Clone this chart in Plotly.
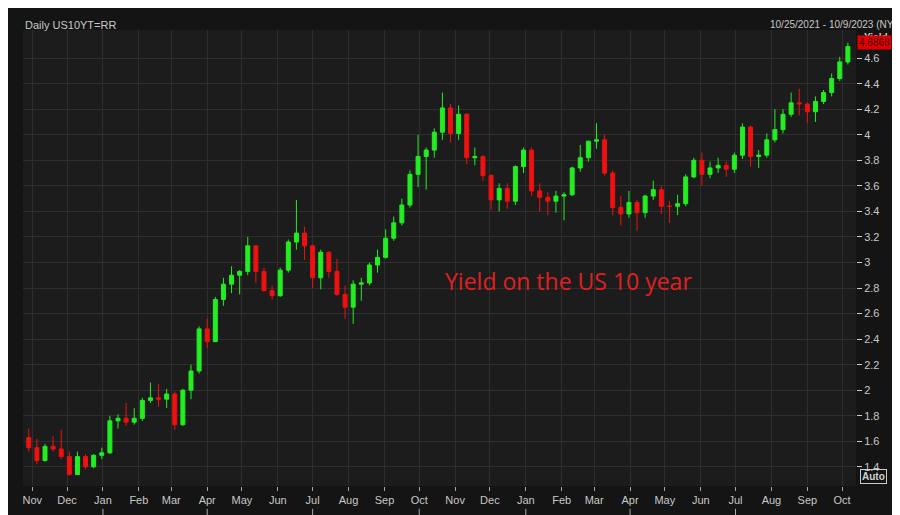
import plotly.graph_objects as go
import pandas as pd

first_open = 1.63
closes = [1.55,1.45,1.56,1.54,1.48,1.34,1.48,1.40,1.49,1.51,
 1.76,1.78,1.75,1.78,1.92,1.94,1.93,1.97,1.73,2.00,2.15,2.48,2.38,2.71,2.83,2.90,2.93,3.13,2.93,2.78,2.74,2.94,3.16,3.23,3.13,2.88,3.08,2.93,2.75,2.65,2.83,2.84,2.98,3.04,3.19,3.31,3.45,3.69,3.83,3.88,4.02,4.21,4.01,4.16,3.82,3.83,3.68,3.49,3.58,3.48,3.75,3.88,
 3.56,3.51,3.48,3.52,3.53,3.74,3.82,3.95,3.96,3.70,3.43,3.38,3.47,3.39,3.52,3.57,3.44,3.44,3.46,3.67,3.80,3.69,3.74,3.76,3.73,3.84,4.06,3.83,3.84,3.96,4.04,4.16,4.25,4.24,4.18,4.26,4.33,4.44,4.57,4.69]
highs = [1.70,1.62,1.58,1.64,1.69,1.52,1.52,1.50,1.50,1.55,
 1.80,1.81,1.90,1.86,1.94,2.06,2.05,2.01,1.99,2.01,2.20,2.50,2.56,2.73,2.88,2.97,2.94,3.20,3.13,2.96,2.82,2.96,3.18,3.49,3.28,3.14,3.10,3.09,3.03,2.82,2.86,2.88,3.00,3.10,3.26,3.36,3.50,3.72,4.00,3.90,4.05,4.33,4.24,4.23,4.17,3.90,3.84,3.69,3.62,3.62,3.76,3.90,
 3.90,3.62,3.55,3.56,3.55,3.75,3.92,3.95,4.09,4.00,3.72,3.52,3.56,3.49,3.53,3.64,3.60,3.48,3.53,3.69,3.82,3.86,3.79,3.82,3.79,3.86,4.09,4.07,3.88,4.01,4.20,4.20,4.33,4.36,4.25,4.30,4.35,4.48,4.61,4.72]
lows = [1.52,1.42,1.44,1.52,1.46,1.33,1.34,1.38,1.39,1.46,
 1.50,1.70,1.72,1.73,1.76,1.90,1.87,1.86,1.69,1.72,1.93,2.13,2.33,2.38,2.66,2.76,2.75,2.90,2.84,2.77,2.71,2.73,2.92,3.10,3.02,2.80,2.79,2.88,2.74,2.56,2.52,2.70,2.82,2.92,3.03,3.17,3.29,3.43,3.59,3.57,3.82,3.96,3.94,3.96,3.77,3.76,3.64,3.41,3.40,3.42,3.45,3.70,
 3.52,3.40,3.37,3.39,3.33,3.52,3.71,3.79,3.89,3.68,3.37,3.29,3.35,3.25,3.35,3.49,3.38,3.31,3.37,3.44,3.66,3.60,3.66,3.70,3.67,3.70,3.81,3.75,3.74,3.82,3.94,4.01,4.14,4.15,4.09,4.10,4.24,4.30,4.42,4.55]
opens = [first_open] + closes[:-1]
dates = pd.date_range("2021-10-29", periods=len(closes), freq="W-FRI")

month_ticks = pd.date_range("2021-11-01", "2023-10-01", freq="MS")
month_labels = [d.strftime("%b") for d in month_ticks]
quarters = ["Q4 2021","Q1 2022","Q2 2022","Q3 2022","Q4 2022","Q1 2023","Q2 2023","Q3 2023"]
quarter_starts = ["2021-10-01","2022-01-01","2022-04-01","2022-07-01","2022-10-01","2023-01-01","2023-04-01","2023-07-01","2023-10-01"]
y_ticks = [1.4,1.6,1.8,2,2.2,2.4,2.6,2.8,3,3.2,3.4,3.6,3.8,4,4.2,4.4,4.6]

fig = go.Figure(go.Candlestick(
    x=dates, open=opens, high=highs, low=lows, close=closes,
    increasing=dict(line=dict(color="#22ee22", width=1), fillcolor="#22ee22"),
    decreasing=dict(line=dict(color="#ee1111", width=1), fillcolor="#ee1111"),
    whiskerwidth=0, showlegend=False))

fig.update_layout(
    width=900, height=515, paper_bgcolor="#141414", plot_bgcolor="#1c1c1c",
    margin=dict(l=15, r=52, t=22, b=37),
    font=dict(family="Liberation Sans, Arial", color="#c8c8c8", size=11),
    xaxis=dict(type="date", range=["2021-10-24", "2023-10-13"], rangeslider=dict(visible=False),
               tickvals=month_ticks, ticktext=month_labels, showgrid=True, gridcolor="#2e2e2e",
               ticks="outside", tickcolor="#aaa", ticklen=4, zeroline=False, showline=False),
    yaxis=dict(side="right", range=[1.25, 4.82], tickvals=y_ticks,
               ticktext=[("%g" % v) for v in y_ticks], showgrid=True, gridcolor="#2e2e2e",
               ticks="outside", tickcolor="#ccc", ticklen=5, zeroline=False),
)
for i, q in enumerate(quarters):
    a = pd.Timestamp(quarter_starts[i]); b = pd.Timestamp(quarter_starts[i+1])
    mid = max(a, pd.Timestamp("2021-10-24")) + (b - max(a, pd.Timestamp("2021-10-24"))) / 2
    fig.add_annotation(x=mid, y=0, yref="paper", yshift=-29, yanchor="top", text="<b>%s</b>" % q,
                       showarrow=False, font=dict(size=11, color="#d0d0d0"))
    if i > 0:
        fig.add_shape(type="line", x0=a, x1=a, y0=-0.05, y1=-0.08, yref="paper",
                      line=dict(color="#aaa", width=1))
fig.add_annotation(x=0, y=1, xref="paper", yref="paper", yshift=13, xanchor="left", text="Daily US10YT=RR",
                   showarrow=False, font=dict(size=11, color="#c8c8c8"))
fig.add_annotation(x=1, y=1, xref="paper", yref="paper", xshift=50, yshift=13, xanchor="right",
                   text="10/25/2021 - 10/9/2023 (NYC)", showarrow=False, font=dict(size=10, color="#c8c8c8"))
fig.add_annotation(x=1, y=1, xref="paper", yref="paper", xshift=6, yshift=0, xanchor="left", yanchor="top",
                   text="<b>Yield</b>", showarrow=False, font=dict(size=10, color="#d0d0d0"))
fig.add_annotation(x=1, y=4.72, xref="paper", xshift=1, xanchor="left", text="4.6868",
                   showarrow=False, bgcolor="#e00000", font=dict(size=10, color="#400000"))
fig.add_annotation(x=1, y=0, xref="paper", yref="paper", xshift=4, yshift=2, xanchor="left", yanchor="bottom",
                   text="<b>Auto</b>", showarrow=False, bordercolor="#ccc", borderwidth=1,
                   font=dict(size=10, color="#d0d0d0"))
fig.add_annotation(x=0.655, y=0.45, xref="paper", yref="paper", text="Yield on the US 10 year",
                   showarrow=False, font=dict(family="Open Sans", size=23, color="#e02020"))
fig.write_html("out.html")
